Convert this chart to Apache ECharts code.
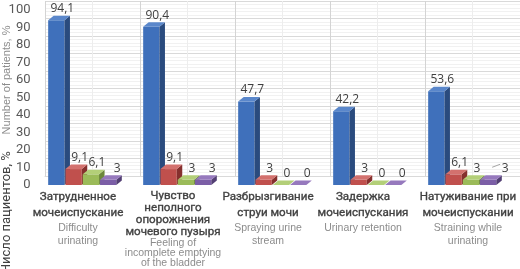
<!DOCTYPE html>
<html>
<head>
<meta charset="utf-8">
<script src="https://cdn.jsdelivr.net/npm/echarts@6/dist/echarts.min.js"></script>
<style>
html, body { margin: 0; padding: 0; background: #fff; }
#chart { width: 520px; height: 269px; }
</style>
</head>
<body>
<div id="chart"></div>
<script>
// categories (russian + english subtitle)
var namesRu = [
  'Затрудненное\nмочеиспускание',
  'Чувство\nнеполного\nопорожнения\nмочевого пузыря',
  'Разбрызгивание\nструи мочи',
  'Задержка\nмочеиспускания',
  'Натуживание при\nмочеиспускании'
]
var namesEn = [
  'Difficulty\nurinating',
  'Feeling of\nincomplete emptying\nof the bladder',
  'Spraying urine\nstream',
  'Urinary retention',
  'Straining while\nurinating'
]
// values, % of patients
var valuesBlue = [94.1, 90.4, 47.7, 42.2, 53.6]
var valuesRed = [9.1, 9.1, 3, 3, 6.1]
var valuesGreen = [6.1, 3, 0, 0, 3]
var valuesPurple = [3, 3, 0, 0, 3]
// y axis ticks
var yMin = 0
var yMax = 100
var yStep = 10

var allValues = [valuesBlue, valuesRed, valuesGreen, valuesPurple]
var palette = [
  { front: '#3f70bb', side: '#2a4b7e', top: '#5a87cb' },
  { front: '#c0504d', side: '#86302e', top: '#d3716e' },
  { front: '#9bbb59', side: '#6c873a', top: '#b3cf78' },
  { front: '#7b5ea6', side: '#533f74', top: '#9679bd' }
]
// rich style suffix per category label ('' normal, B compressed, E shifted)
var labelKind = ['', 'B', '', '', 'E']

function fmt(v) {
  return String(v).replace('.', ',')
}

function render3dBar(params, api) {
  var s = params.seriesIndex
  var cat = api.value(0)
  var val = api.value(1)
  var band = api.size([1, 0])[0]
  var p0 = api.coord([cat, 0])
  var p1 = api.coord([cat, val])
  var w = band * 0.182
  var x0 = p0[0] + band * 0.05 - 2 * w + s * w
  var x1 = x0 + w - 1
  var yb = p0[1]
  var yt = p1[1]
  var dx = 5.5
  var dy = 4.5
  var c = palette[s]
  var children = [
    { type: 'rect', shape: { x: x0, y: yt, width: x1 - x0, height: yb - yt }, style: { fill: c.front } },
    { type: 'polygon', shape: { points: [[x1, yt], [x1 + dx, yt - dy], [x1 + dx, yb - dy], [x1, yb]] }, style: { fill: c.side } },
    { type: 'polygon', shape: { points: [[x0, yt], [x0 + dx, yt - dy], [x1 + dx, yt - dy], [x1, yt]] }, style: { fill: c.top } }
  ]
  var lx = (x0 + x1) / 2 + (s === 3 ? 9 : 6)
  var ly = yt - dy - 1
  // last purple label is pulled out with a short leader line
  if (s === 3 && params.dataIndex === valuesPurple.length - 1) {
    lx += 8
    children.push({
      type: 'polyline',
      shape: { points: [[lx - 13, ly - 7], [lx - 5, ly - 10]] },
      style: { stroke: '#a6a6a6', lineWidth: 1, fill: null }
    })
  }
  children.push({
    type: 'text',
    style: {
      text: fmt(val),
      x: lx,
      y: ly,
      align: 'center',
      verticalAlign: 'bottom',
      fill: '#404040',
      fontSize: 12,
      fontFamily: 'Open Sans'
    }
  })
  return { type: 'group', children: children }
}

var chart = echarts.init(document.getElementById('chart'))

var series = allValues.map(function (vals, si) {
  return {
    type: 'custom',
    xAxisIndex: 1,
    yAxisIndex: 1,
    renderItem: render3dBar,
    encode: { x: 0, y: 1 },
    data: vals.map(function (v, i) {
      return [i, v]
    }),
    z: 3 + si
  }
})

var ruBase = {
  fontFamily: 'Roboto',
  fontSize: 11.6,
  color: '#404040',
  textBorderColor: '#404040',
  textBorderWidth: 0.35,
  lineHeight: 16
}
var enBase = { fontFamily: 'Liberation Sans', fontSize: 10.5, color: '#8c8c8c', lineHeight: 13 }

var option = {
  backgroundColor: '#fff',
  animation: false,
  grid: [
    // back wall
    { left: 45, right: 0, top: 1, bottom: 93 },
    // front plane (bars + labels)
    { left: 30.5, right: 14.5, top: 10, bottom: 84 }
  ],
  xAxis: [
    {
      type: 'value',
      gridIndex: 0,
      min: 0,
      max: namesRu.length * 2,
      interval: 1,
      axisLabel: { show: false },
      axisTick: { show: false },
      axisLine: { show: true, lineStyle: { color: '#d9d9d9' } },
      splitLine: { show: true, lineStyle: { color: ['#d4d4d4', '#ededed'] } }
    },
    {
      type: 'category',
      gridIndex: 1,
      data: namesRu,
      axisLine: { show: false },
      axisTick: { show: false },
      splitLine: { show: false },
      axisLabel: {
        interval: 0,
        margin: 4.5,
        formatter: function (value, idx) {
          var k = labelKind[idx]
          var ru = namesRu[idx].split('\n').map(function (t) {
            return '{ru' + k + '|' + t + '}'
          })
          var en = namesEn[idx].split('\n').map(function (t) {
            return '{en' + k + '|' + t + '}'
          })
          return ru.concat(en).join('\n')
        },
        rich: {
          ru: ruBase,
          en: enBase,
          ruB: Object.assign({}, ruBase, { lineHeight: 12.3 }),
          enB: Object.assign({}, enBase, { lineHeight: 9.8 }),
          ruE: Object.assign({}, ruBase, { padding: [0, 0, 0, 20] }),
          enE: Object.assign({}, enBase, { padding: [0, 0, 0, 20] })
        }
      }
    }
  ],
  yAxis: [
    {
      type: 'value',
      gridIndex: 0,
      min: yMin,
      max: yMax,
      interval: yStep,
      axisLabel: { show: false },
      axisTick: { show: false },
      axisLine: { show: false },
      splitLine: { show: true, lineStyle: { color: '#d9d9d9' } },
      minorTick: { show: false, splitNumber: 5 },
      minorSplitLine: { show: true, lineStyle: { color: '#f1f1f1' } }
    },
    {
      type: 'value',
      gridIndex: 1,
      min: yMin,
      max: yMax,
      interval: yStep,
      axisLine: { show: false },
      axisTick: { show: false },
      splitLine: { show: false },
      axisLabel: {
        margin: 0,
        color: '#595959',
        fontSize: 13,
        fontFamily: 'Roboto',
        padding: [6, 0, 0, 0]
      }
    }
  ],
  graphic: [
    {
      type: 'text',
      x: 7,
      y: 212,
      rotation: Math.PI / 2,
      style: {
        text: 'Число пациентов, %',
        align: 'center',
        verticalAlign: 'middle',
        fill: '#404040',
        fontSize: 13,
        fontFamily: 'Roboto'
      }
    },
    {
      type: 'text',
      x: 7,
      y: 80,
      rotation: Math.PI / 2,
      style: {
        text: 'Number of patients, %',
        align: 'center',
        verticalAlign: 'middle',
        fill: '#8c8c8c',
        fontSize: 11,
        fontFamily: 'Liberation Sans'
      }
    }
  ],
  series: series
}

chart.setOption(option)
</script>
</body>
</html>
